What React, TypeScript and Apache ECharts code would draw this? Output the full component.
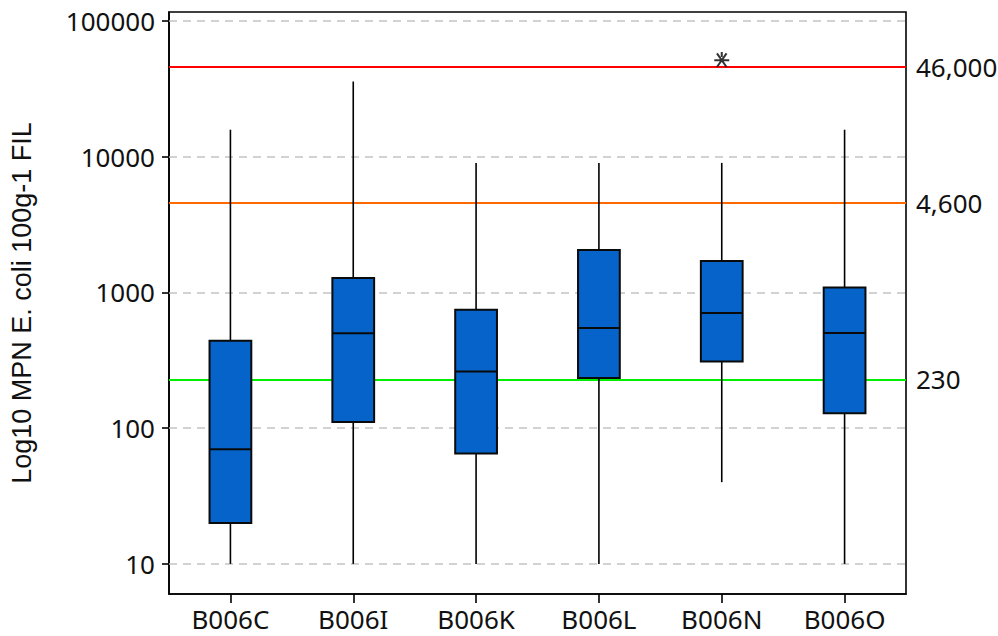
import React, { useEffect, useRef } from 'react';
import * as echarts from 'echarts';

// ---- data (raw MPN values, plotted on a log10 scale) ----
const categories = ['B006C', 'B006I', 'B006K', 'B006L', 'B006N', 'B006O'];
const whiskerLow = [10, 10, 10, 10, 40, 10];
const quartile1 = [20, 111, 65, 234, 310, 129];
const medians = [70, 500, 261, 547, 705, 502];
const quartile3 = [441, 1276, 746, 2052, 1703, 1089];
const whiskerHigh = [15800, 35800, 9000, 9000, 9000, 15800];
const outlierCategories = ['B006N'];
const outlierValues = [52000];
const referenceValues = [46000, 4600, 230];
const referenceLabels = ['46,000', '4,600', '230'];
const yTickValues = [10, 100, 1000, 10000, 100000];
const yRange = [6.0, 116400];

const L = (v: number) => Math.log10(v);

const REF_COLORS = ['#ff0000', '#ff6a00', '#00ee00'];
const BOX_FILL = '#0563c9';
const TICK_FONT = 'Noto Sans, Open Sans, sans-serif';

export default function App() {
  const ref = useRef<HTMLDivElement>(null);

  useEffect(() => {
    if (!ref.current) return;
    const chart = echarts.init(ref.current, undefined, { renderer: 'svg' });

    const boxData = categories.map((_, i) => [
      i,
      L(whiskerLow[i]),
      L(quartile1[i]),
      L(medians[i]),
      L(quartile3[i]),
      L(whiskerHigh[i]),
    ]);

    const gridMarks = yTickValues.map((v) => ({
      yAxis: L(v),
      lineStyle: { color: '#c4c4c4', type: [8, 6], width: 1.6 },
      label: { show: false },
    }));

    const refMarks = referenceValues.map((v, i) => ({
      yAxis: L(v),
      lineStyle: { color: REF_COLORS[i], type: 'solid', width: 1.8 },
      label: {
        show: true,
        position: 'end',
        formatter: referenceLabels[i],
        color: '#111',
        fontSize: 26,
        fontFamily: TICK_FONT,
        distance: 10,
      },
    }));

    const option: any = {
      animation: false,
      grid: {
        left: 167,
        right: 92,
        top: 12,
        bottom: 42,
        show: true,
        borderColor: '#000',
        borderWidth: 1.6,
        backgroundColor: 'transparent',
      },
      xAxis: {
        type: 'category',
        data: categories,
        axisLine: { show: true, lineStyle: { color: '#000', width: 1.6 } },
        axisTick: { show: true, alignWithLabel: true, length: 9, lineStyle: { color: '#000', width: 1.6 } },
        axisLabel: { color: '#111', fontSize: 26, fontFamily: TICK_FONT, margin: 12 },
        splitLine: { show: false },
      },
      yAxis: {
        type: 'value',
        min: L(yRange[0]),
        max: L(yRange[1]),
        axisLine: { show: true, lineStyle: { color: '#000', width: 1.6 } },
        axisTick: {
          show: true,
          length: 7,
          customValues: yTickValues.map(L),
          lineStyle: { color: '#000', width: 1.6 },
        },
        axisLabel: {
          customValues: yTickValues.map(L),
          formatter: (v: number) => String(Math.round(Math.pow(10, v))),
          color: '#111',
          fontSize: 26,
          fontFamily: TICK_FONT,
          margin: 14,
        },
        splitLine: { show: false },
        name: 'Log10 MPN E. coli 100g-1 FIL',
        nameLocation: 'middle',
        nameGap: 134,
        nameTextStyle: { color: '#111', fontSize: 27, fontFamily: 'Liberation Sans, Arial, sans-serif' },
      },
      series: [
        {
          type: 'line',
          data: [],
          silent: true,
          z: 1,
          markLine: {
            silent: true,
            z: 1,
            symbol: 'none',
            animation: false,
            data: [...gridMarks, ...refMarks],
          },
        },
        {
          type: 'custom',
          z: 3,
          data: boxData,
          encode: { x: 0, y: [1, 2, 3, 4, 5] },
          renderItem: (params: any, api: any) => {
            const x = api.value(0);
            const pLow = api.coord([x, api.value(1)]);
            const pQ1 = api.coord([x, api.value(2)]);
            const pMed = api.coord([x, api.value(3)]);
            const pQ3 = api.coord([x, api.value(4)]);
            const pHigh = api.coord([x, api.value(5)]);
            const half = api.size([1, 0])[0] * 0.17;
            const cx = pMed[0];
            const lineStyle = { stroke: '#000', lineWidth: 1.6 };
            return {
              type: 'group',
              children: [
                { type: 'line', shape: { x1: cx, y1: pQ3[1], x2: cx, y2: pHigh[1] }, style: lineStyle },
                { type: 'line', shape: { x1: cx, y1: pQ1[1], x2: cx, y2: pLow[1] }, style: lineStyle },
                {
                  type: 'rect',
                  shape: { x: cx - half, y: pQ3[1], width: half * 2, height: pQ1[1] - pQ3[1] },
                  style: { fill: BOX_FILL, stroke: '#0a0a0a', lineWidth: 2 },
                },
                {
                  type: 'line',
                  shape: { x1: cx - half, y1: pMed[1], x2: cx + half, y2: pMed[1] },
                  style: { stroke: '#0a0a0a', lineWidth: 2 },
                },
              ],
            };
          },
        },
        {
          type: 'scatter',
          z: 4,
          data: outlierCategories.map((c, i) => [categories.indexOf(c), L(outlierValues[i])]),
          symbol: 'path://M0,5L10,5M1.8,0.8L8.2,9.2M1.8,9.2L8.2,0.8M5,0L5,3',
          symbolSize: 15,
          itemStyle: { color: 'transparent', borderColor: '#000', borderWidth: 2 },
        },
      ],
    };

    chart.setOption(option);
    return () => chart.dispose();
  }, []);

  return (
    <div
      ref={ref}
      style={{ position: 'absolute', left: 0, top: 0, width: 998, height: 636, background: '#fff' }}
    />
  );
}
